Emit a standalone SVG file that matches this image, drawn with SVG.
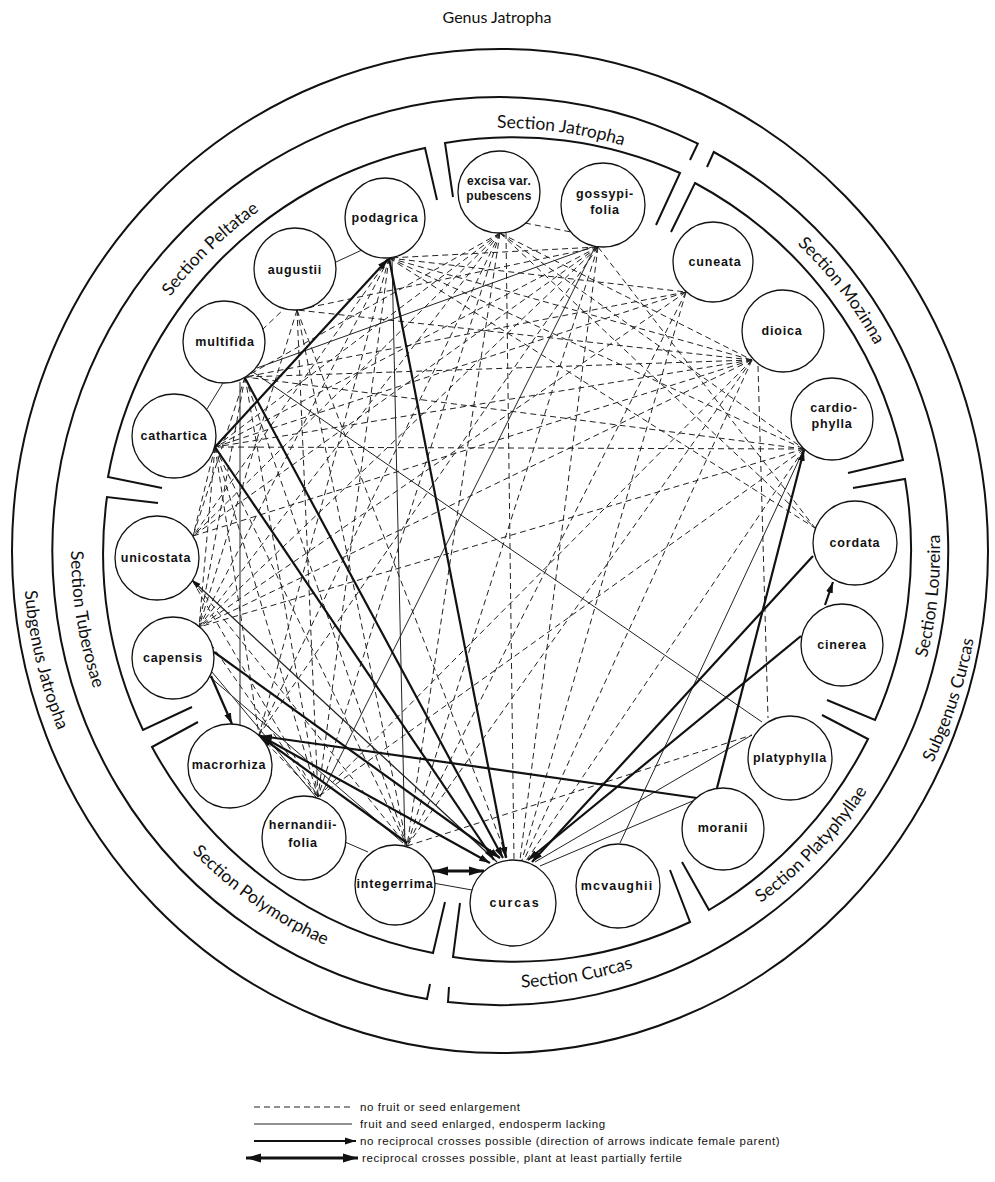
<svg xmlns="http://www.w3.org/2000/svg" width="995" height="1182" viewBox="0 0 995 1182">
<style>
.ring{fill:none;stroke:#111;stroke-width:2}
.box{fill:none;stroke:#111;stroke-width:2;stroke-linejoin:miter}
.lab{font-family:Lato,"DejaVu Sans",sans-serif;font-size:17.5px;fill:#111}
.sub{font-family:Lato,"DejaVu Sans",sans-serif;font-size:17.5px;fill:#111}
.node circle{fill:#fff;stroke:#111;stroke-width:1.3}
.node text{font-family:"Liberation Sans",Arial,sans-serif;font-size:12.5px;font-weight:bold;letter-spacing:0.8px;text-anchor:middle;fill:#111}
.d{stroke:#222;stroke-width:1;stroke-dasharray:6 4;fill:none}
.t{stroke:#222;stroke-width:1;fill:none}
.m{stroke:#222;stroke-width:1.3;fill:none;marker-end:url(#ahs)}
.a{stroke:#111;stroke-width:2.2;fill:none;marker-end:url(#ah)}
.b{stroke:#111;stroke-width:3.2;fill:none;marker-end:url(#ahb);marker-start:url(#ahb)}
.leg{font-family:"Liberation Sans",Arial,sans-serif;font-size:11.5px;letter-spacing:0.6px;fill:#111}
</style>
<defs>
<marker id="ah" markerUnits="userSpaceOnUse" markerWidth="12" markerHeight="8" refX="11" refY="4" orient="auto"><path d="M0,0.5 L11,4 L0,7.5 z" fill="#111"/></marker>
<marker id="ahs" markerUnits="userSpaceOnUse" markerWidth="10" markerHeight="7" refX="9" refY="3.5" orient="auto"><path d="M0,0.5 L9,3.5 L0,6.5 z" fill="#111"/></marker>
<marker id="ahb" markerUnits="userSpaceOnUse" markerWidth="16" markerHeight="10" refX="15" refY="5" orient="auto-start-reverse"><path d="M0,0.5 L15,5 L0,9.5 z" fill="#111"/></marker>
<path id="pPel" d="M86.3,507.3 A418,418 0 0 1 472.8,134"/>
<path id="pJat" d="M277.8,192.3 A423,423 0 0 1 816.3,268"/>
<path id="pMoz" d="M594.2,135.1 A426,426 0 0 1 927.6,569.6"/>
<path id="pLou" d="M806.3,866.1 A438,438 0 0 0 865.1,306.1"/>
<path id="pPla" d="M551.5,985.2 A437,437 0 0 0 938.2,577.7"/>
<path id="pCur" d="M283.5,929.4 A437,437 0 0 0 836.7,831.9"/>
<path id="pPol" d="M84.7,662.8 A432,432 0 0 0 539.7,981.4"/>
<path id="pTub" d="M131.4,331 A431,431 0 0 0 220.9,877.7"/>
<path id="pSJ" d="M73.7,336.5 A479,479 0 0 0 216.4,935.5"/>
<path id="pSC" d="M753.5,959.8 A480,480 0 0 0 948.3,374.3"/>
</defs>
<rect width="995" height="1182" fill="#fff"/>

<g id="rings">
<text x="497" y="23" text-anchor="middle" style="font-family:Lato,'DejaVu Sans',sans-serif;font-size:16px;fill:#111">Genus Jatropha</text>
<ellipse class="ring" cx="500" cy="551" rx="488" ry="502"/>
<path class="ring" d="M430,984 L427,999 A448,454 0 1 1 697.8,143.6 L690,160"/>
<path class="ring" d="M707,167 L713.8,152 A448,454 0 0 1 448,1002 L449,987"/>
<text class="sub"><textPath href="#pSJ" startOffset="50%" text-anchor="middle">Subgenus Jatropha</textPath></text>
<text class="sub"><textPath href="#pSC" startOffset="50%" text-anchor="middle">Subgenus Curcas</textPath></text>
</g>

<g id="sections">
<path class="box" d="M162,488 L108,477 A405,412 0 0 1 425,148 L437,200"/>
<path class="box" d="M453,197 L445,143 A410,414 0 0 1 680,173 L656,225"/>
<path class="box" d="M671,232 L695,183 A410,414 0 0 1 903,460 L848,473"/>
<path class="box" d="M853,488 L905,479 A410,414 0 0 1 875,720 L827,700"/>
<path class="box" d="M822,715 L868,739 A410,414 0 0 1 709,910 L682,862"/>
<path class="box" d="M670,870 L690,922 A410,414 0 0 1 453,957 L460,903"/>
<path class="box" d="M445,902 L433,953 A405,410 0 0 1 152,747 L198,722"/>
<path class="box" d="M192,707 L143,730 A400,405 0 0 1 107,497 L158,503"/>
<text class="lab"><textPath href="#pPel" startOffset="50%" text-anchor="middle">Section Peltatae</textPath></text>
<text class="lab"><textPath href="#pJat" startOffset="50%" text-anchor="middle">Section Jatropha</textPath></text>
<text class="lab"><textPath href="#pMoz" startOffset="50%" text-anchor="middle">Section Mozinna</textPath></text>
<text class="lab"><textPath href="#pLou" startOffset="50%" text-anchor="middle">Section Loureira</textPath></text>
<text class="lab"><textPath href="#pPla" startOffset="50%" text-anchor="middle">Section Platyphyllae</textPath></text>
<text class="lab"><textPath href="#pCur" startOffset="50%" text-anchor="middle">Section Curcas</textPath></text>
<text class="lab"><textPath href="#pPol" startOffset="50%" text-anchor="middle">Section Polymorphae</textPath></text>
<text class="lab"><textPath href="#pTub" startOffset="50%" text-anchor="middle">Section Tuberosae</textPath></text>
</g>

<g id="connectors">
<!-- dashed: no fruit or seed enlargement -->
<line class="d" x1="525" y1="223" x2="571" y2="232"/>
<line class="d" x1="500" y1="233" x2="245" y2="377"/>
<line class="d" x1="500" y1="233" x2="215" y2="447"/>
<line class="d" x1="500" y1="233" x2="193" y2="536"/>
<line class="d" x1="500" y1="233" x2="199" y2="627"/>
<line class="d" x1="500" y1="233" x2="259" y2="735"/>
<line class="d" x1="500" y1="233" x2="318" y2="797"/>
<line class="d" x1="500" y1="233" x2="407" y2="846"/>
<line class="d" x1="506" y1="233" x2="514" y2="860"/>
<line class="d" x1="500" y1="233" x2="752" y2="360"/>
<line class="d" x1="500" y1="233" x2="804" y2="449"/>
<line class="d" x1="500" y1="233" x2="815" y2="528"/>
<line class="d" x1="598" y1="247" x2="389" y2="258"/>
<line class="d" x1="598" y1="247" x2="297" y2="310"/>
<line class="d" x1="598" y1="247" x2="215" y2="447"/>
<line class="d" x1="598" y1="247" x2="193" y2="536"/>
<line class="d" x1="598" y1="247" x2="199" y2="627"/>
<line class="d" x1="598" y1="247" x2="259" y2="735"/>
<line class="d" x1="598" y1="247" x2="407" y2="846"/>
<line class="d" x1="598" y1="247" x2="520" y2="860"/>
<line class="d" x1="598" y1="247" x2="815" y2="528"/>
<line class="d" x1="389" y1="258" x2="686" y2="292"/>
<line class="d" x1="389" y1="258" x2="752" y2="360"/>
<line class="d" x1="389" y1="258" x2="804" y2="449"/>
<line class="d" x1="389" y1="258" x2="815" y2="528"/>
<line class="d" x1="389" y1="258" x2="193" y2="536"/>
<line class="d" x1="389" y1="258" x2="199" y2="627"/>
<line class="d" x1="389" y1="258" x2="259" y2="735"/>
<line class="d" x1="389" y1="258" x2="318" y2="797"/>
<line class="d" x1="752" y1="360" x2="297" y2="310"/>
<line class="d" x1="752" y1="360" x2="245" y2="377"/>
<line class="d" x1="752" y1="360" x2="215" y2="447"/>
<line class="d" x1="752" y1="360" x2="193" y2="536"/>
<line class="d" x1="752" y1="360" x2="199" y2="627"/>
<line class="d" x1="752" y1="360" x2="318" y2="797"/>
<line class="d" x1="752" y1="360" x2="407" y2="846"/>
<line class="d" x1="752" y1="360" x2="524" y2="860"/>
<line class="d" x1="758" y1="366" x2="768" y2="718"/>
<line class="d" x1="686" y1="292" x2="245" y2="377"/>
<line class="d" x1="686" y1="292" x2="215" y2="447"/>
<line class="d" x1="686" y1="292" x2="199" y2="627"/>
<line class="d" x1="686" y1="292" x2="407" y2="846"/>
<line class="d" x1="686" y1="292" x2="522" y2="860"/>
<line class="d" x1="804" y1="449" x2="215" y2="447"/>
<line class="d" x1="804" y1="449" x2="199" y2="627"/>
<line class="d" x1="804" y1="449" x2="318" y2="797"/>
<line class="d" x1="804" y1="449" x2="526" y2="861"/>
<line class="d" x1="804" y1="449" x2="245" y2="377"/>
<line class="d" x1="262" y1="330" x2="285" y2="308"/>
<line class="d" x1="245" y1="377" x2="193" y2="536"/>
<line class="d" x1="245" y1="377" x2="199" y2="627"/>
<line class="d" x1="245" y1="377" x2="318" y2="797"/>
<line class="d" x1="245" y1="377" x2="407" y2="846"/>
<line class="d" x1="215" y1="447" x2="193" y2="536"/>
<line class="d" x1="215" y1="447" x2="199" y2="627"/>
<line class="d" x1="215" y1="447" x2="259" y2="735"/>
<line class="d" x1="215" y1="447" x2="318" y2="797"/>
<line class="d" x1="215" y1="447" x2="407" y2="846"/>
<line class="d" x1="297" y1="310" x2="318" y2="797"/>
<line class="d" x1="297" y1="310" x2="508" y2="860"/>
<line class="d" x1="297" y1="310" x2="199" y2="627"/>
<line class="d" x1="297" y1="310" x2="407" y2="846"/>
<line class="d" x1="199" y1="627" x2="318" y2="797"/>
<line class="d" x1="192" y1="580" x2="318" y2="797"/>
<line class="d" x1="192" y1="580" x2="407" y2="846"/>
<line class="d" x1="259" y1="735" x2="318" y2="797"/>
<line class="d" x1="407" y1="846" x2="752" y2="735"/>
<!-- thin: fruit and seed enlarged, endosperm lacking -->
<line class="t" x1="336" y1="262" x2="362" y2="250"/>
<line class="t" x1="223" y1="383" x2="207" y2="409"/>
<line class="t" x1="257" y1="368" x2="592" y2="247"/>
<line class="t" x1="253" y1="372" x2="762" y2="722"/>
<line class="t" x1="240" y1="382" x2="240" y2="725"/>
<line class="t" x1="595" y1="247" x2="320" y2="797"/>
<line class="t" x1="392" y1="258" x2="405" y2="846"/>
<line class="t" x1="345" y1="842" x2="368" y2="852"/>
<line class="t" x1="433" y1="883" x2="472" y2="890"/>
<line class="t" x1="210" y1="677" x2="403" y2="843"/>
<line class="t" x1="212" y1="672" x2="316" y2="797"/>
<line class="t" x1="620" y1="843" x2="804" y2="449"/>
<line class="t" x1="695" y1="800" x2="540" y2="866"/>
<line class="t" x1="752" y1="735" x2="535" y2="862"/>
<line class="m" x1="497" y1="862" x2="192" y2="580"/>
<!-- thick: no reciprocal crosses possible (arrow at female parent) -->
<line class="a" x1="389" y1="258" x2="506" y2="858"/>
<line class="a" x1="245" y1="378" x2="503" y2="858"/>
<line class="a" x1="215" y1="447" x2="494" y2="860"/>
<line class="a" x1="214" y1="652" x2="500" y2="858"/>
<line class="a" x1="259" y1="735" x2="490" y2="863"/>
<line class="a" x1="407" y1="843" x2="261" y2="737"/>
<line class="a" x1="697" y1="798" x2="261" y2="736"/>
<line class="a" x1="211" y1="676" x2="232" y2="724"/>
<line class="a" x1="717" y1="788" x2="804" y2="450"/>
<line class="a" x1="813" y1="556" x2="532" y2="862"/>
<line class="a" x1="801" y1="636" x2="528" y2="860"/>
<line class="a" x1="825" y1="605" x2="833" y2="582"/>
<line class="a" x1="215" y1="447" x2="388" y2="259"/>
<!-- reciprocal -->
<line class="b" x1="433" y1="871" x2="484" y2="871"/>
</g>

<g id="nodes">
<g id="n-excisa" class="node"><circle cx="499" cy="192" r="41"/><text x="499" y="185" style="letter-spacing:0.3px;font-size:12px">excisa var.</text><text x="499" y="200" style="letter-spacing:0.3px;font-size:12px">pubescens</text></g>
<g id="n-gossypifolia" class="node"><circle cx="603" cy="205" r="42"/><text x="605" y="198">gossypi-</text><text x="605" y="214">folia</text></g>
<g id="n-podagrica" class="node"><circle cx="385" cy="218" r="40"/><text x="385" y="222">podagrica</text></g>
<g id="n-augustii" class="node"><circle cx="295" cy="269" r="41"/><text x="295" y="274">augustii</text></g>
<g id="n-multifida" class="node"><circle cx="224" cy="342" r="41"/><text x="225" y="346">multifida</text></g>
<g id="n-cathartica" class="node"><circle cx="174" cy="436" r="42"/><text x="174" y="440">cathartica</text></g>
<g id="n-unicostata" class="node"><circle cx="157" cy="558" r="42"/><text x="156" y="562">unicostata</text></g>
<g id="n-capensis" class="node"><circle cx="173" cy="658" r="41"/><text x="173" y="662">capensis</text></g>
<g id="n-macrorhiza" class="node"><circle cx="230" cy="766" r="42"/><text x="229" y="769">macrorhiza</text></g>
<g id="n-hernandiifolia" class="node"><circle cx="304" cy="838" r="42"/><text x="303" y="829">hernandii-</text><text x="303" y="847">folia</text></g>
<g id="n-integerrima" class="node"><circle cx="395" cy="885" r="40"/><text x="395" y="888">integerrima</text></g>
<g id="n-curcas" class="node"><circle cx="513" cy="903" r="43"/><text x="515" y="907" style="letter-spacing:1.8px">curcas</text></g>
<g id="n-mcvaughii" class="node"><circle cx="618" cy="886" r="42"/><text x="617" y="890" style="letter-spacing:1.2px">mcvaughii</text></g>
<g id="n-moranii" class="node"><circle cx="723" cy="829" r="41"/><text x="723" y="832">moranii</text></g>
<g id="n-platyphylla" class="node"><circle cx="790" cy="758" r="42"/><text x="790" y="762">platyphylla</text></g>
<g id="n-cinerea" class="node"><circle cx="842" cy="645" r="41"/><text x="842" y="649">cinerea</text></g>
<g id="n-cordata" class="node"><circle cx="855" cy="543" r="42"/><text x="855" y="547">cordata</text></g>
<g id="n-cardiophylla" class="node"><circle cx="832" cy="419" r="41"/><text x="834" y="412">cardio-</text><text x="832" y="428">phylla</text></g>
<g id="n-dioica" class="node"><circle cx="783" cy="331" r="41"/><text x="782" y="335">dioica</text></g>
<g id="n-cuneata" class="node"><circle cx="713" cy="262" r="40"/><text x="715" y="266">cuneata</text></g>
</g>

<g id="legend">
<line class="d" x1="254" y1="1107" x2="352" y2="1107"/>
<line class="t" x1="254" y1="1124" x2="352" y2="1124"/>
<line class="a" x1="254" y1="1141" x2="356" y2="1141"/>
<line class="b" x1="246" y1="1158" x2="358" y2="1158"/>
<text class="leg" x="360" y="1111">no fruit or seed enlargement</text>
<text class="leg" x="360" y="1128">fruit and seed enlarged, endosperm lacking</text>
<text class="leg" x="360" y="1145">no reciprocal crosses possible  (direction of arrows indicate female parent)</text>
<text class="leg" x="362" y="1162">reciprocal crosses possible, plant at least partially fertile</text>
</g>
</svg>
